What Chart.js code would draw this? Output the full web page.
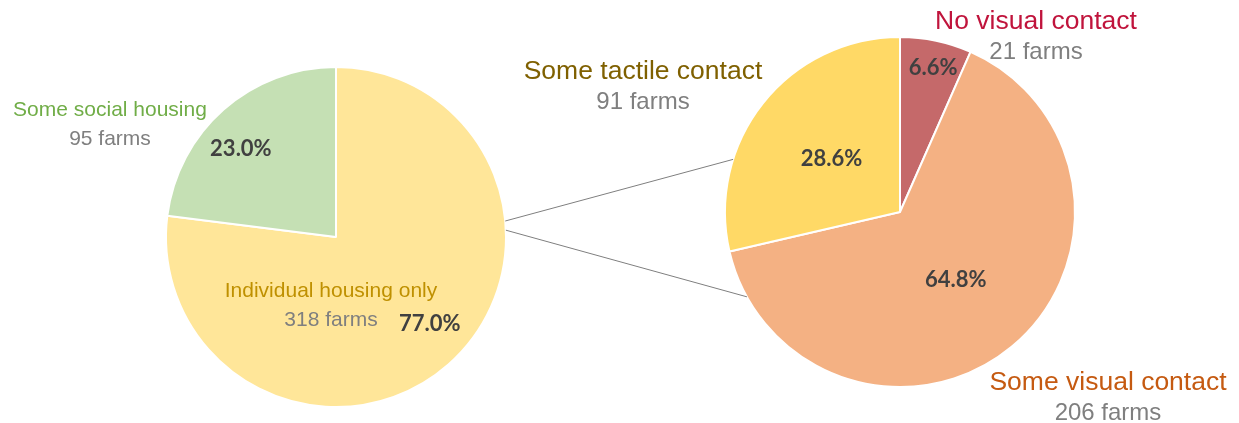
<!DOCTYPE html>
<html>
<head>
<meta charset="utf-8">
<script src="https://cdn.jsdelivr.net/npm/chart.js@4/dist/chart.umd.min.js"></script>
<style>
  html, body { margin: 0; padding: 0; background: #fff; }
  #wrap { position: relative; width: 1239px; height: 423px; overflow: hidden; }
  #wrap canvas { position: absolute; }
  #pieLeft { left: 156px; top: 57px; }
  #pieRight { left: 715px; top: 27px; }
  #overlay { left: 0; top: 0; pointer-events: none; }
</style>
</head>
<body>
<div id="wrap">
  <canvas id="pieLeft" width="360" height="360"></canvas>
  <canvas id="pieRight" width="370" height="370"></canvas>
  <canvas id="overlay" width="1239" height="423"></canvas>
</div>
<script>
// Housing type (all farms)
var housingLabels = ["Individual housing only", "Some social housing"];
var housingFarms = [318, 95];
var housingPct = ["77.0%", "23.0%"];
var housingColors = ["#FFE699", "#C5E0B4"];
var housingTextColors = ["#BF9000", "#70AD47"];

// Contact type (farms with some social housing)
var contactLabels = ["No visual contact", "Some visual contact", "Some tactile contact"];
var contactFarms = [21, 206, 91];
var contactPct = ["6.6%", "64.8%", "28.6%"];
var contactColors = ["#C5696A", "#F4B183", "#FFD966"];
var contactTextColors = ["#C0143C", "#C55A11", "#7F6000"];

function crearPie(id, valores, colores, radio) {
  return new Chart(document.getElementById(id), {
    type: "pie",
    data: {
      labels: valores.map(function (v, i) { return i; }),
      datasets: [{
        data: valores,
        backgroundColor: colores,
        borderColor: "#ffffff",
        borderWidth: 2
      }]
    },
    options: {
      responsive: false,
      animation: false,
      radius: radio,
      events: [],
      plugins: { legend: { display: false }, tooltip: { enabled: false } }
    }
  });
}

const chartLeft = crearPie("pieLeft", housingFarms, housingColors, 170);
const chartRight = crearPie("pieRight", contactFarms, contactColors, 175);

// posicion de un arco en coordenadas de la pagina
function arcoPagina(chart, canvasId, i) {
  var arc = chart.getDatasetMeta(0).data[i];
  var cv = document.getElementById(canvasId);
  return {
    x: arc.x + cv.offsetLeft,
    y: arc.y + cv.offsetTop,
    r: arc.outerRadius,
    start: arc.startAngle,
    end: arc.endAngle
  };
}

function puntoEn(a, ang, frac) {
  return { x: a.x + Math.cos(ang) * a.r * frac, y: a.y + Math.sin(ang) * a.r * frac };
}

// angulos desde las 12 en punto, en grados
function angTop(g) { return (g - 90) * Math.PI / 180; }

const ctx = document.getElementById("overlay").getContext("2d");

// Lineas que unen "Some social housing" con el segundo pie
var conectorIzq = [84.6, 87.7];
var conectorDer = [287.5, 241];
var cL = arcoPagina(chartLeft, "pieLeft", 0);
var cR = arcoPagina(chartRight, "pieRight", 0);
ctx.strokeStyle = "#7f7f7f";
ctx.lineWidth = 1;
for (var k = 0; k < 2; k++) {
  var p1 = puntoEn(cL, angTop(conectorIzq[k]), 1);
  var p2 = puntoEn(cR, angTop(conectorDer[k]), 1);
  ctx.beginPath();
  ctx.moveTo(p1.x, p1.y);
  ctx.lineTo(p2.x, p2.y);
  ctx.stroke();
}

// Porcentajes dentro de cada rebanada (fraccion del radio y giro en grados)
function pintarPct(chart, id, textos, fracs, giros) {
  ctx.font = "bold 22px Lato";
  ctx.fillStyle = "#404040";
  ctx.textAlign = "center";
  ctx.textBaseline = "middle";
  for (var i = 0; i < textos.length; i++) {
    var a = arcoPagina(chart, id, i);
    var ang = (a.start + a.end) / 2 + giros[i] * Math.PI / 180;
    var p = puntoEn(a, ang, fracs[i]);
    ctx.fillText(textos[i], p.x, p.y + 1);
  }
}
pintarPct(chartLeft, "pieLeft", housingPct, [0.75, 0.765], [-6, -5.6]);
pintarPct(chartRight, "pieRight", contactPct, [0.85, 0.5, 0.5], [1, 0, 0]);

// Etiquetas de categoria y cantidad de granjas
function etiqueta(nombre, farms, color, x, y, size, size2) {
  ctx.textAlign = "center";
  ctx.textBaseline = "middle";
  ctx.font = size + "px 'Liberation Sans'";
  ctx.fillStyle = color;
  ctx.fillText(nombre, x, y);
  ctx.font = size2 + "px 'Liberation Sans'";
  ctx.fillStyle = "#7F7F7F";
  ctx.fillText(farms + " farms", x, y + (size2 > 22 ? 30 : 29));
}
etiqueta(housingLabels[1], housingFarms[1], housingTextColors[1], 110, 110, 21, 21);
etiqueta(housingLabels[0], housingFarms[0], housingTextColors[0], 331, 291, 21, 21);
etiqueta(contactLabels[2], contactFarms[2], contactTextColors[2], 643, 72, 26.5, 24);
etiqueta(contactLabels[0], contactFarms[0], contactTextColors[0], 1036, 22, 26.5, 24);
etiqueta(contactLabels[1], contactFarms[1], contactTextColors[1], 1108, 383, 26.5, 24);
</script>
</body>
</html>
